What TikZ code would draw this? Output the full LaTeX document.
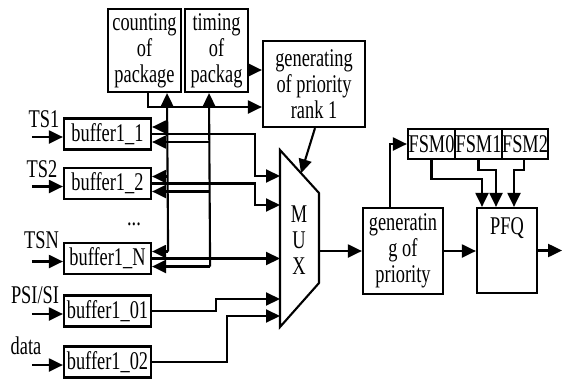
\documentclass[tikz,border=0pt]{standalone}
\usepackage{fontspec}
\setmainfont{Liberation Serif}[FakeStretch=0.72]
\usetikzlibrary{arrows.meta,calc}
\begin{document}
\begin{tikzpicture}[x=1pt,y=-1pt,
  lbl/.style={font=\fontsize{25.5}{26}\selectfont, inner sep=0pt, align=center},
  box/.style={lbl, draw, line width=2.2pt},
  buf/.style={box, minimum width=87pt, minimum height=31pt},
  fsm/.style={box, minimum height=30pt},
  wire/.style={line width=2.1pt},
  arr/.style={wire, -{Triangle[length=14pt,width=13pt]}}]
\useasboundingbox (0,0) rectangle (562,378);

% upper blocks
\node[box, minimum width=73pt, minimum height=83pt] (cnt) at (144.5,50.5) {counting\\of\\package};
\node[box, minimum width=63pt, minimum height=83pt] (tim) at (216.5,50.5) {timing\\of\\packag};
\node[box, minimum width=102pt, minimum height=86pt] (rk1) at (314,84) {generating\\of priority\\rank 1};

% input buffers
\node[buf] (b1)  at (107.5,134)   {buffer1\_1};
\node[buf] (b2)  at (107.5,183.5) {buffer1\_2};
\node[buf] (bN)  at (107.5,258.5) {buffer1\_N};
\node[buf] (b01) at (107.5,311)   {buffer1\_01};
\node[buf] (b02) at (107.5,362)   {buffer1\_02};
\node[lbl, anchor=base] (dots) at (134,225) {...};

% input labels
\node[lbl] (ts1) at (44,119) {TS1};
\node[lbl] (ts2) at (42,169) {TS2};
\node[lbl] (tsn) at (41.5,240.5) {TSN};
\node[lbl] (psi) at (35,295) {PSI/SI};
\node[lbl] (dat) at (26,346) {data};

% input arrows
\foreach \b in {b1,b2,bN,b01,b02}
  \draw[arr] ($(\b.west)+(-31,3)$) -- ++(31,0);

% multiplexer
\coordinate (mtl) at (280,150);
\coordinate (mtr) at (319,193);
\coordinate (mbr) at (319,283);
\coordinate (mbl) at (280,327);
\draw[wire] (mtl) -- (mtr) -- (mbr) -- (mbl) -- cycle;
\node[lbl] (mxl) at (299,240) {M\\U\\X};

% right-hand blocks
\node[box, minimum width=80pt, minimum height=86pt] (gp) at (403,251) {generatin\\g of\\priority};
\node[box, minimum width=60pt, minimum height=85pt] (pfq) at (507,250.5) {};
\node[lbl] (pfql) at (507,228) {PFQ};
\node[fsm, minimum width=47pt] (f0) at (431.5,144) {FSM0};
\node[fsm, minimum width=47pt] (f1) at (478.5,144) {FSM1};
\node[fsm, minimum width=46pt] (f2) at (525,144) {FSM2};

% feedback buses into the buffers
\foreach \b in {b1,b2,bN} {
  \draw[arr] ($(\b.east)+(16,-7)$) -- ($(\b.east)+(0,-7)$);
  \draw[arr] ($(\b.east)+(58,8)$) -- ($(\b.east)+(0,8)$);
}
\draw[arr] ($(bN.east)+(16,-7)$) -- ($(cnt.south)+(22.5,0)$);
\draw[arr] ($(bN.east)+(58,8)$) -- ($(tim.south)+(-7.5,0)$);

% counters to priority rank
\draw[arr] ($(cnt.south)+(3.5,0)$) |- ($(rk1.west)+(0,23)$);
\draw[arr] ($(tim.east)+(0,19.5)$) -- ($(rk1.west)+(0,-14)$);
\draw[arr] ($(rk1.south)+(1,0)$) -- ($(mtl)!0.54!(mtr)$);

% buffers to multiplexer
\draw[arr] (b1.east) -- ++(103,0) |- ($(mtl)+(0,26)$);
\draw[arr] (b2.east) -- ++(103,0) |- ($(mtl)+(0,55)$);
\draw[arr] (bN.east) -- (bN.east -| mtl);
\draw[arr] (b01.east) -- ++(64,0) |- ($(mbl)+(0,-28)$);
\draw[arr] (b02.east) -- ++(75,0) |- ($(mbl)+(0,-11)$);

% output path
\draw[arr] (gp.west -| mtr) -- (gp.west);
\draw[arr] (gp.east) -- (gp.east -| pfq.west);
\draw[arr] (pfq.east) -- ++(24,0);
\draw[arr] ($(gp.north)+(-13,0)$) |- (f0.west);
\draw[arr] (f0.south) -- ++(0,19) -| ($(pfq.north)+(-25,0)$);
\draw[arr] (f1.south) -- ++(0,10) -| ($(pfq.north)+(-11,0)$);
\draw[arr] ($(f2.south)+(-1,0)$) -- ++(0,10) -| ($(pfq.north)+(7,0)$);
\end{tikzpicture}
\end{document}
